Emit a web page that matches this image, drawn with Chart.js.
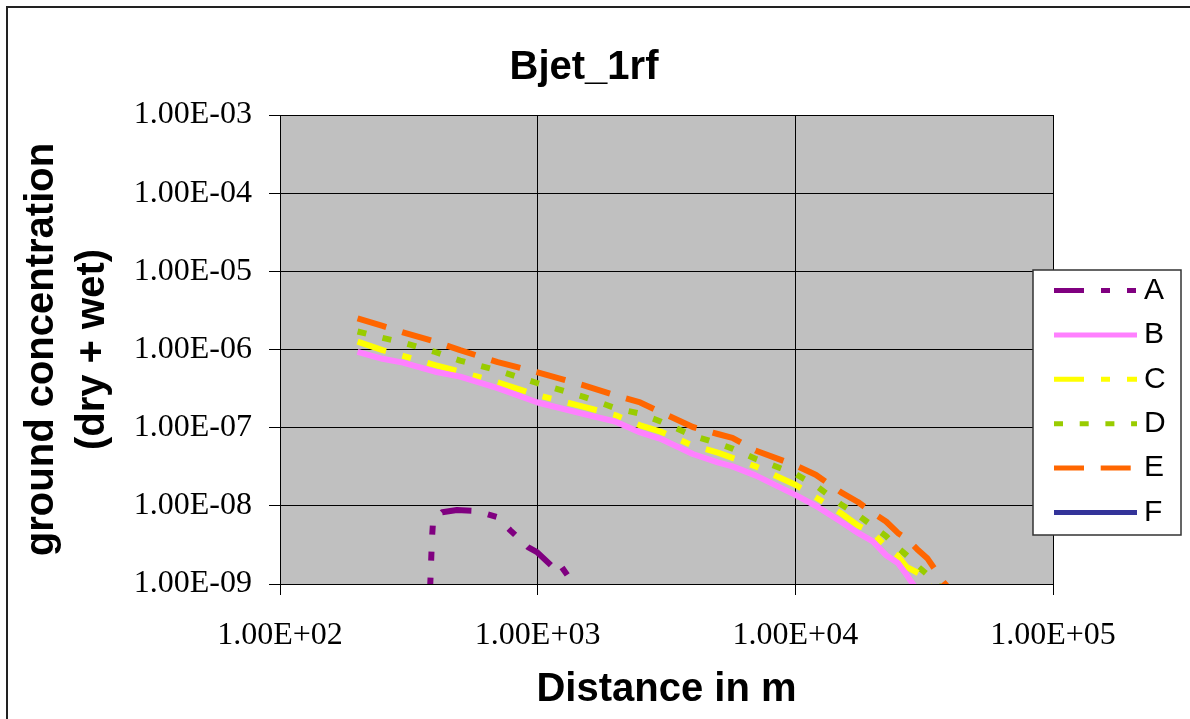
<!DOCTYPE html>
<html>
<head>
<meta charset="utf-8">
<title>Bjet_1rf</title>
<script src="https://cdn.jsdelivr.net/npm/chart.js@4/dist/chart.umd.min.js"></script>
<style>
  html, body { margin: 0; padding: 0; background: #fff; }
</style>
</head>
<body>
<canvas id="chart" width="1190" height="719"></canvas>
<script>
const chartTitle = "Bjet_1rf";
const xAxisTitle = "Distance in m";
const yAxisTitle = ["ground concentration", "(dry + wet)"];

const xTicks = [1e2, 1e3, 1e4, 1e5];
const xTickLabels = ["1.00E+02", "1.00E+03", "1.00E+04", "1.00E+05"];
const yTicks = [1e-9, 1e-8, 1e-7, 1e-6, 1e-5, 1e-4, 1e-3];
const yTickLabels = ["1.00E-09", "1.00E-08", "1.00E-07", "1.00E-06", "1.00E-05", "1.00E-04", "1.00E-03"];

const seriesNames = ["A", "B", "C", "D", "E", "F"];

// distances (m) shared by runs B..E
const distances = [200, 250, 300, 400, 500, 700, 1000, 1500, 2000, 2500, 3000, 4000, 5000, 5700, 7000, 10000,
  12000, 15000, 17500, 20000, 22500, 25000, 27000, 30000, 32500, 35000, 37500, 40000];

const concB = [9.3e-7, 7.6e-7, 6.8e-7, 5.2e-7, 4.5e-7, 3.2e-7, 2.1e-7, 1.5e-7, 1.2e-7, 8.7e-8, 7.2e-8, 4.6e-8, 3.6e-8, 3.2e-8, 2.45e-8, 1.38e-8,
  1.0e-8, 6.3e-9, 4.5e-9, 3.5e-9, 2.34e-9, 1.86e-9, 1.32e-9, 7.9e-10, 5e-10, 4e-10, 3.2e-10, 2e-10];
const concC = [1.26e-6, 9.8e-7, 8.3e-7, 6.3e-7, 5.2e-7, 3.8e-7, 2.6e-7, 1.86e-7, 1.45e-7, 1.07e-7, 8.9e-8, 5.9e-8, 4.8e-8, 4.1e-8, 3.2e-8, 1.86e-8,
  1.29e-8, 8.1e-9, 5.6e-9, 4.5e-9, 3.0e-9, 2.3e-9, 1.66e-9, 1.38e-9, 1.02e-9, 7.9e-10, 5.6e-10, 4e-10];
const concD = [1.7e-6, 1.41e-6, 1.23e-6, 9.3e-7, 7.2e-7, 5.4e-7, 3.7e-7, 2.5e-7, 1.78e-7, 1.51e-7, 1.2e-7, 7.9e-8, 6.3e-8, 5.4e-8, 4.0e-8, 2.57e-8,
  1.82e-8, 1.05e-8, 7.6e-9, 5.5e-9, 4.1e-9, 2.9e-9, 2.34e-9, 1.66e-9, 1.32e-9, 1.07e-9, 7.9e-10, 6.3e-10];
const concE = [2.51e-6, 2.0e-6, 1.66e-6, 1.26e-6, 9.8e-7, 6.9e-7, 5.1e-7, 3.5e-7, 2.6e-7, 2.1e-7, 1.58e-7, 1.02e-7, 8.3e-8, 7.4e-8, 5.1e-8, 3.3e-8,
  2.5e-8, 1.5e-8, 1.12e-8, 8.1e-9, 6.3e-9, 4.5e-9, 3.8e-9, 2.7e-9, 2.14e-9, 1.5e-9, 1.07e-9, 8.3e-10];

// run A only rises above the axis floor over a short stretch
const distancesA = [380, 389, 393, 426, 486, 581, 695, 781, 917, 994, 1146, 1199, 1371, 1500];
const concA = [5e-10, 3.9e-9, 6.6e-9, 8.3e-9, 8.85e-9, 8.6e-9, 7.2e-9, 4.9e-9, 2.96e-9, 2.56e-9, 1.65e-9, 1.92e-9, 1.03e-9, 8e-10];

// run F stays below 1e-9 everywhere
const distancesF = [];
const concF = [];

function toPoints(xs, ys) {
  return xs.map((x, i) => ({ x: x, y: ys[i] }));
}

function makeDataset(label, points, color, dash) {
  return {
    label: label,
    data: points,
    borderColor: color,
    backgroundColor: color,
    borderWidth: 6,
    borderDash: dash,
    borderCapStyle: "butt",
    borderJoinStyle: "round",
    pointRadius: 0,
    tension: 0,
    fill: false,
    clip: 0,
  };
}

const datasets = [
  makeDataset(seriesNames[0], toPoints(distancesA, concA), "#800080", [30, 17, 9, 17, 9, 17]),
  makeDataset(seriesNames[1], toPoints(distances, concB), "#ff80ff", []),
  makeDataset(seriesNames[2], toPoints(distances, concC), "#ffff00", [30, 17, 9, 17]),
  makeDataset(seriesNames[3], toPoints(distances, concD), "#99cc00", [9, 16.7]),
  makeDataset(seriesNames[4], toPoints(distances, concE), "#ff6600", [30, 16.7]),
  makeDataset(seriesNames[5], toPoints(distancesF, concF), "#333399", []),
];

// background, outer frame, title and the boxed legend on the right
const chartDecor = {
  id: "chartDecor",
  beforeDraw(chart) {
    const { ctx, chartArea: a } = chart;
    ctx.save();
    ctx.fillStyle = "#ffffff";
    ctx.fillRect(0, 0, chart.width, chart.height);
    ctx.fillStyle = "#c0c0c0";
    ctx.fillRect(a.left, a.top, a.right - a.left, a.bottom - a.top);
    ctx.strokeStyle = "#222222";
    ctx.lineWidth = 2;
    ctx.strokeRect(7, 7, chart.width + 20, chart.height + 20);
    ctx.restore();
  },
  afterDraw(chart) {
    const ctx = chart.ctx;
    ctx.save();
    ctx.fillStyle = "#000";
    ctx.font = "bold 40px 'Liberation Sans', Arial, sans-serif";
    ctx.textAlign = "center";
    ctx.textBaseline = "middle";
    ctx.fillText(chartTitle, 584, 68);

    // legend
    const boxX = 1033, boxY = 270, boxW = 148, boxH = 265;
    ctx.fillStyle = "#ffffff";
    ctx.fillRect(boxX, boxY, boxW, boxH);
    ctx.strokeStyle = "#333333";
    ctx.lineWidth = 1.5;
    ctx.strokeRect(boxX, boxY, boxW, boxH);

    ctx.font = "30px 'Liberation Sans', Arial, sans-serif";
    ctx.textAlign = "left";
    chart.data.datasets.forEach((ds, i) => {
      const y = 290.5 + i * 44.4;
      ctx.strokeStyle = ds.borderColor;
      ctx.lineWidth = 5;
      ctx.lineCap = "butt";
      ctx.setLineDash(ds.borderDash);
      ctx.beginPath();
      ctx.moveTo(1054, y);
      ctx.lineTo(1137, y);
      ctx.stroke();
      ctx.setLineDash([]);
      ctx.fillStyle = "#000";
      ctx.fillText(ds.label, 1144, y);
    });
    ctx.restore();
  },
};

const tickFont = { family: "'Liberation Serif', 'Times New Roman', serif", size: 32 };
const axisTitleFont = { family: "'Liberation Sans', Arial, sans-serif", size: 40, weight: "bold" };

new Chart(document.getElementById("chart"), {
  type: "line",
  data: { datasets: datasets },
  plugins: [chartDecor],
  options: {
    responsive: false,
    devicePixelRatio: 1,
    animation: false,
    layout: { padding: { top: 115, right: 137, bottom: 0, left: 0 } },
    plugins: {
      legend: { display: false },
      title: { display: false },
      tooltip: { enabled: false },
    },
    scales: {
      x: {
        type: "logarithmic",
        min: 1e2,
        max: 1e5,
        afterBuildTicks: (scale) => {
          scale.ticks = xTicks.map((v) => ({ value: v }));
        },
        afterFit: (scale) => {
          scale.height = 135;
        },
        ticks: {
          color: "#000",
          font: tickFont,
          padding: 21,
          maxRotation: 0,
          autoSkip: false,
          callback: (value, index) => xTickLabels[index],
        },
        grid: { color: "#000", lineWidth: 1, tickLength: 11, tickColor: "#000" },
        border: { color: "#000", width: 1 },
        title: {
          display: true,
          text: xAxisTitle,
          color: "#000",
          font: { ...axisTitleFont, lineHeight: 1.2 },
          padding: { top: 0, bottom: 5 },
        },
      },
      y: {
        type: "logarithmic",
        min: 1e-9,
        max: 1e-3,
        afterBuildTicks: (scale) => {
          scale.ticks = yTicks.map((v) => ({ value: v }));
        },
        afterFit: (scale) => {
          scale.width = 280;
        },
        ticks: {
          color: "#000",
          font: tickFont,
          padding: 17,
          autoSkip: false,
          callback: (value, index) => yTickLabels[index],
        },
        grid: { color: "#000", lineWidth: 1, tickLength: 11, tickColor: "#000" },
        border: { color: "#000", width: 1 },
        title: {
          display: true,
          text: yAxisTitle,
          color: "#000",
          font: { ...axisTitleFont, lineHeight: "51px" },
          padding: { top: 16, bottom: 0 },
        },
      },
    },
  },
});
</script>
</body>
</html>
